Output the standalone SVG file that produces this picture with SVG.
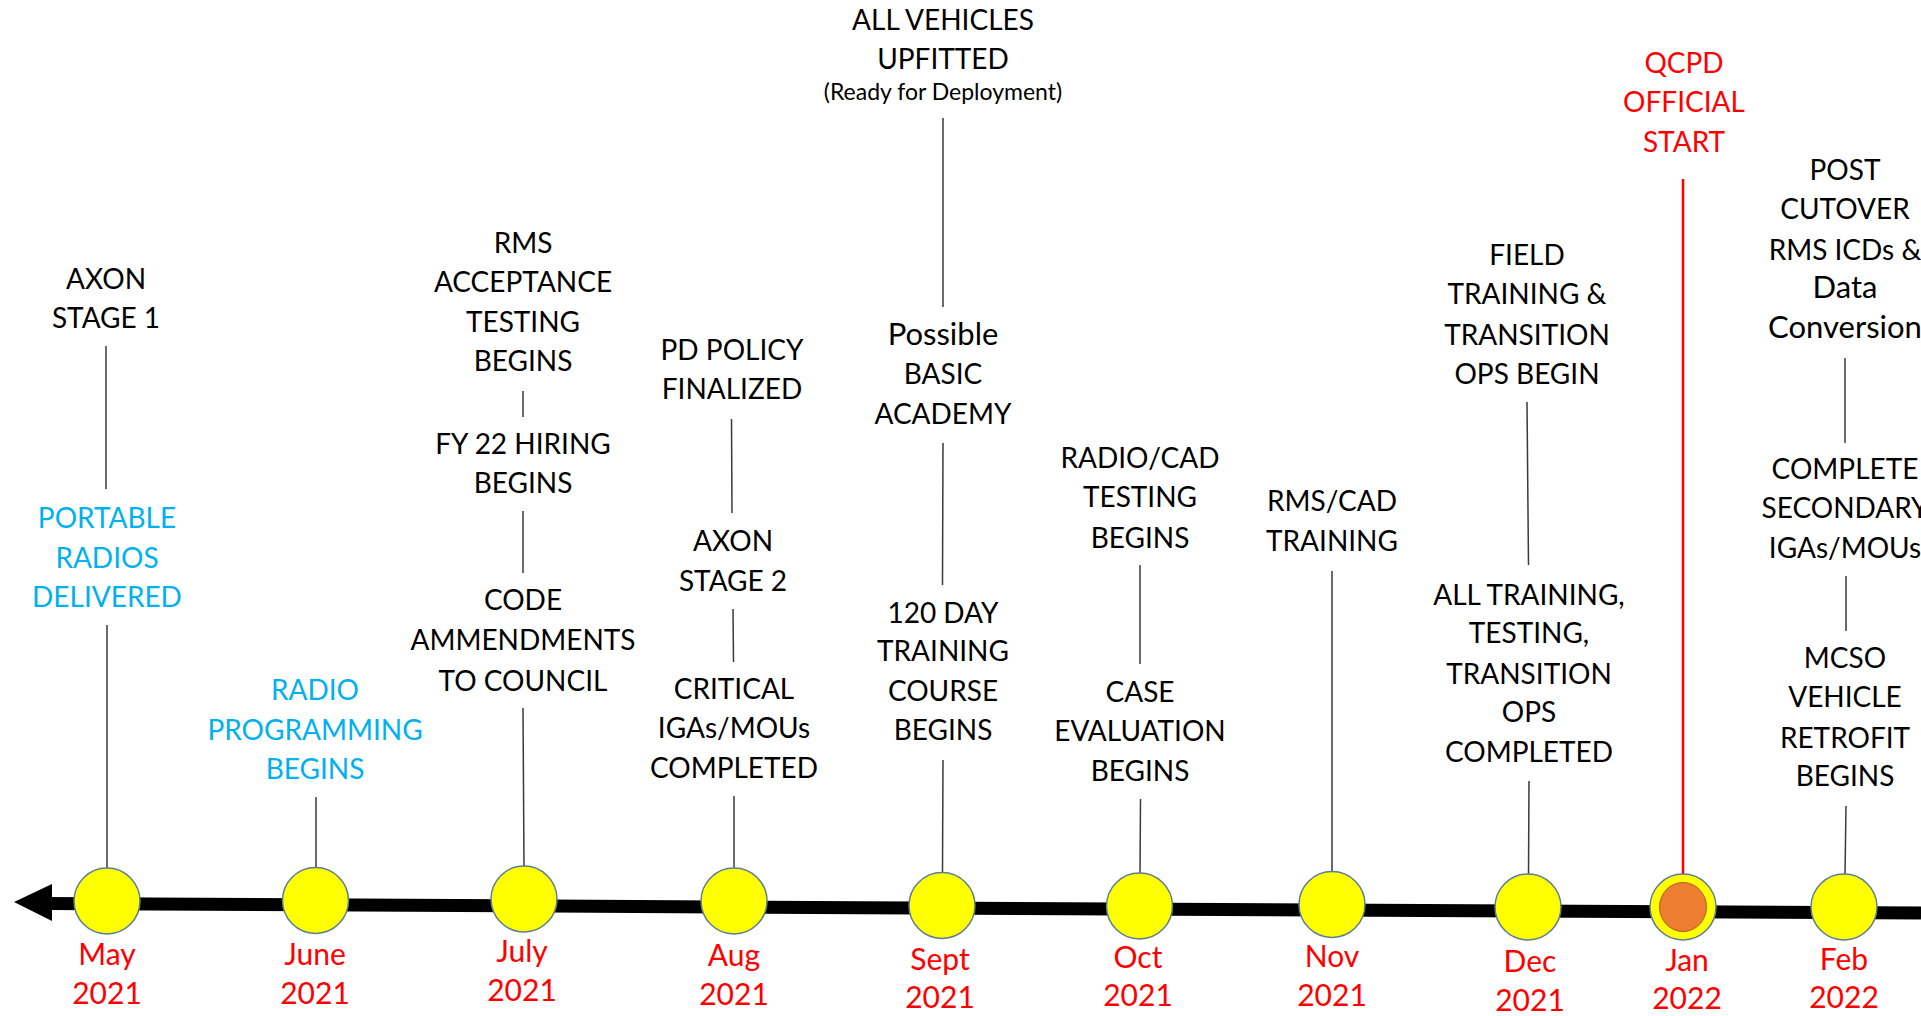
<svg xmlns="http://www.w3.org/2000/svg" width="1921" height="1016" viewBox="0 0 1921 1016">
<style>
.t{font-family:Lato,"Open Sans","Liberation Sans",sans-serif;font-size:28px;text-anchor:middle;fill:#000}
.lc{font-size:31px}
.mo{font-size:30px}
.b{fill:#00B0F0}
.r{fill:#FF0000}
.s{font-size:23px}
.c{stroke:#3a3a3a;stroke-width:1.5;fill:none}
.red{stroke:#FF0000;stroke-width:2.5;fill:none}
.dot{fill:#FFFF00;stroke:#5B7D96;stroke-width:1.5}
</style>
<rect width="1921" height="1016" fill="#fff"/>
<g id="axis">
<line x1="45" y1="903.5" x2="1921" y2="913" stroke="#000" stroke-width="13"/>
<polygon points="14,902 52,884 52,921" fill="#000"/>
</g>
<g id="connectors">
<line class="c" x1="106" y1="346" x2="106" y2="489"/>
<line class="c" x1="107" y1="625" x2="107" y2="868"/>
<line class="c" x1="316" y1="797" x2="316" y2="868"/>
<line class="c" x1="523" y1="391" x2="523" y2="417"/>
<line class="c" x1="523" y1="511" x2="523" y2="573"/>
<line class="c" x1="523" y1="708" x2="524" y2="866"/>
<line class="c" x1="731.5" y1="419" x2="732" y2="513"/>
<line class="c" x1="733" y1="609" x2="733.5" y2="662"/>
<line class="c" x1="734" y1="796" x2="734" y2="869"/>
<line class="c" x1="943" y1="118" x2="943" y2="307"/>
<line class="c" x1="943" y1="443" x2="942.5" y2="585"/>
<line class="c" x1="943" y1="760" x2="942.5" y2="873"/>
<line class="c" x1="1140" y1="565" x2="1140" y2="664"/>
<line class="c" x1="1140.5" y1="799" x2="1140" y2="874"/>
<line class="c" x1="1332" y1="571" x2="1332" y2="871"/>
<line class="c" x1="1527" y1="402" x2="1528.5" y2="565"/>
<line class="c" x1="1529" y1="781" x2="1528.5" y2="875"/>
<line class="red" x1="1683" y1="179" x2="1683" y2="874"/>
<line class="c" x1="1845" y1="358" x2="1845" y2="443"/>
<line class="c" x1="1846" y1="576" x2="1846" y2="631"/>
<line class="c" x1="1846" y1="806" x2="1845" y2="875"/>
</g>
<g id="may">
<text class="t"><tspan x="106" y="289">AXON</tspan><tspan x="106" y="328">STAGE 1</tspan></text>
<text class="t b"><tspan x="107" y="528">PORTABLE</tspan><tspan x="107" y="567.5">RADIOS</tspan><tspan x="107" y="607">DELIVERED</tspan></text>
<ellipse class="dot" cx="107" cy="901" rx="33" ry="33"/>
<text class="t r mo"><tspan x="107" y="965">May</tspan><tspan x="107" y="1004">2021</tspan></text>
</g>
<g id="june">
<text class="t b"><tspan x="315" y="700">RADIO</tspan><tspan x="315" y="739.5">PROGRAMMING</tspan><tspan x="315" y="779">BEGINS</tspan></text>
<ellipse class="dot" cx="315.5" cy="900.5" rx="33" ry="33"/>
<text class="t r mo"><tspan x="315" y="965">June</tspan><tspan x="315" y="1004">2021</tspan></text>
</g>
<g id="july">
<text class="t"><tspan x="523" y="253">RMS</tspan><tspan x="523" y="292">ACCEPTANCE</tspan><tspan x="523" y="332">TESTING</tspan><tspan x="523" y="371">BEGINS</tspan></text>
<text class="t"><tspan x="523" y="454">FY 22 HIRING</tspan><tspan x="523" y="493">BEGINS</tspan></text>
<text class="t"><tspan x="523" y="610">CODE</tspan><tspan x="523" y="650">AMMENDMENTS</tspan><tspan x="523" y="691">TO COUNCIL</tspan></text>
<ellipse class="dot" cx="524" cy="899" rx="33" ry="33"/>
<text class="t r mo"><tspan x="522" y="962">July</tspan><tspan x="522" y="1001">2021</tspan></text>
</g>
<g id="aug">
<text class="t"><tspan x="732" y="360">PD POLICY</tspan><tspan x="732" y="399">FINALIZED</tspan></text>
<text class="t"><tspan x="733" y="551">AXON</tspan><tspan x="733" y="591">STAGE 2</tspan></text>
<text class="t"><tspan x="734" y="699">CRITICAL</tspan><tspan x="734" y="738">IGAs/MOUs</tspan><tspan x="734" y="778">COMPLETED</tspan></text>
<ellipse class="dot" cx="734" cy="901" rx="33" ry="33"/>
<text class="t r mo"><tspan x="734" y="966">Aug</tspan><tspan x="734" y="1005">2021</tspan></text>
</g>
<g id="sept">
<text class="t"><tspan x="943" y="30">ALL VEHICLES</tspan><tspan x="943" y="69">UPFITTED</tspan></text>
<text class="t s" x="943" y="100">(Ready for Deployment)</text>
<text class="t"><tspan class="lc" x="943" y="345">Possible</tspan><tspan x="943" y="384">BASIC</tspan><tspan x="943" y="424">ACADEMY</tspan></text>
<text class="t"><tspan x="943" y="623">120 DAY</tspan><tspan x="943" y="661">TRAINING</tspan><tspan x="943" y="701">COURSE</tspan><tspan x="943" y="740">BEGINS</tspan></text>
<ellipse class="dot" cx="942" cy="905.5" rx="33" ry="33"/>
<text class="t r mo"><tspan x="940" y="970">Sept</tspan><tspan x="940" y="1008">2021</tspan></text>
</g>
<g id="oct">
<text class="t"><tspan x="1140" y="468">RADIO/CAD</tspan><tspan x="1140" y="507">TESTING</tspan><tspan x="1140" y="548">BEGINS</tspan></text>
<text class="t"><tspan x="1140" y="702">CASE</tspan><tspan x="1140" y="741">EVALUATION</tspan><tspan x="1140" y="781">BEGINS</tspan></text>
<ellipse class="dot" cx="1139.5" cy="906" rx="33" ry="33"/>
<text class="t r mo"><tspan x="1138" y="968">Oct</tspan><tspan x="1138" y="1006">2021</tspan></text>
</g>
<g id="nov">
<text class="t"><tspan x="1332" y="511">RMS/CAD</tspan><tspan x="1332" y="551">TRAINING</tspan></text>
<ellipse class="dot" cx="1332" cy="904.5" rx="33" ry="33"/>
<text class="t r mo"><tspan x="1332" y="967">Nov</tspan><tspan x="1332" y="1006">2021</tspan></text>
</g>
<g id="dec">
<text class="t"><tspan x="1527" y="265">FIELD</tspan><tspan x="1527" y="304">TRAINING &amp;</tspan><tspan x="1527" y="345">TRANSITION</tspan><tspan x="1527" y="384">OPS BEGIN</tspan></text>
<text class="t"><tspan x="1529" y="605">ALL TRAINING,</tspan><tspan x="1529" y="643">TESTING,</tspan><tspan x="1529" y="684">TRANSITION</tspan><tspan x="1529" y="722">OPS</tspan><tspan x="1529" y="762">COMPLETED</tspan></text>
<ellipse class="dot" cx="1528" cy="907" rx="33" ry="33"/>
<text class="t r mo"><tspan x="1530" y="972">Dec</tspan><tspan x="1530" y="1011">2021</tspan></text>
</g>
<g id="jan">
<text class="t r"><tspan x="1684" y="73">QCPD</tspan><tspan x="1684" y="112">OFFICIAL</tspan><tspan x="1684" y="152">START</tspan></text>
<ellipse class="dot" cx="1683" cy="907" rx="33" ry="33"/>
<ellipse cx="1683" cy="907" rx="23.5" ry="24.5" fill="#ED7D31" stroke="#B35A1F" stroke-width="1"/>
<text class="t r mo"><tspan x="1687" y="971">Jan</tspan><tspan x="1687" y="1009">2022</tspan></text>
</g>
<g id="feb">
<text class="t"><tspan x="1845" y="180">POST</tspan><tspan x="1845" y="219">CUTOVER</tspan><tspan x="1845" y="260">RMS ICDs &amp;</tspan><tspan class="lc" x="1845" y="298">Data</tspan><tspan class="lc" x="1845" y="338">Conversion</tspan></text>
<text class="t"><tspan x="1845" y="479">COMPLETE</tspan><tspan x="1845" y="518">SECONDARY</tspan><tspan x="1845" y="558">IGAs/MOUs</tspan></text>
<text class="t"><tspan x="1845" y="668">MCSO</tspan><tspan x="1845" y="707">VEHICLE</tspan><tspan x="1845" y="748">RETROFIT</tspan><tspan x="1845" y="786">BEGINS</tspan></text>
<ellipse class="dot" cx="1844" cy="907" rx="33" ry="33"/>
<text class="t r mo"><tspan x="1844" y="970">Feb</tspan><tspan x="1844" y="1008">2022</tspan></text>
</g>
</svg>
